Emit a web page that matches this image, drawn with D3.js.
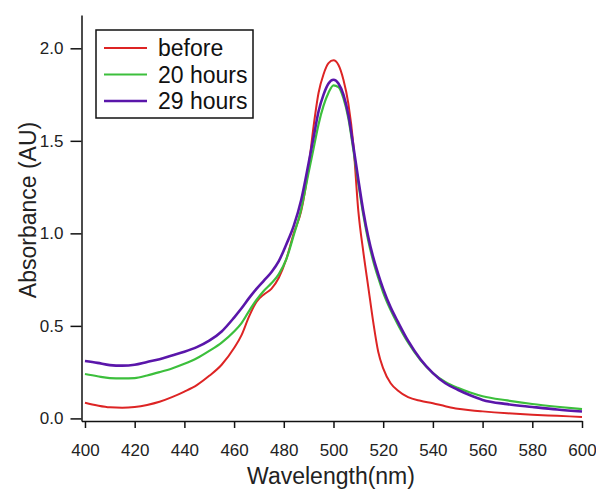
<!DOCTYPE html>
<html>
<head>
<meta charset="utf-8">
<script src="https://cdn.jsdelivr.net/npm/d3@7"></script>
<style>
  html, body { margin: 0; padding: 0; background: #fff; }
  svg { display: block; font-family: "Liberation Sans", Arial, sans-serif; }
</style>
</head>
<body>
<svg id="chart" width="596" height="489"></svg>
<script>
// ---- data ----
const wavelengths = [400,405,410,415,420,425,430,435,440,445,450,455,460,463,466,469,472,475,478,481,484,487,490,492,494,496,498,500,502,504,506,508,510,512,514,516,518,520,523,526,530,535,540,545,550,555,560,570,580,590,600];

const before = [0.085,0.07,0.06,0.058,0.062,0.073,0.09,0.115,0.145,0.18,0.23,0.29,0.38,0.45,0.55,0.63,0.67,0.70,0.76,0.86,1.00,1.12,1.36,1.58,1.76,1.86,1.92,1.935,1.91,1.83,1.70,1.48,1.12,0.90,0.71,0.52,0.36,0.27,0.19,0.15,0.115,0.095,0.082,0.066,0.052,0.044,0.038,0.028,0.02,0.014,0.008];

const hours20 = [0.24,0.228,0.218,0.216,0.218,0.232,0.25,0.27,0.295,0.325,0.365,0.41,0.47,0.515,0.58,0.64,0.69,0.73,0.78,0.86,0.99,1.13,1.33,1.46,1.59,1.69,1.76,1.80,1.79,1.73,1.62,1.45,1.27,1.10,0.96,0.85,0.76,0.68,0.585,0.505,0.41,0.315,0.245,0.197,0.165,0.14,0.12,0.097,0.078,0.063,0.05];

const hours29 = [0.31,0.30,0.288,0.285,0.29,0.305,0.32,0.34,0.36,0.385,0.42,0.47,0.545,0.595,0.65,0.70,0.745,0.79,0.85,0.94,1.04,1.18,1.38,1.52,1.66,1.75,1.81,1.83,1.81,1.75,1.64,1.47,1.29,1.12,0.98,0.87,0.78,0.70,0.60,0.52,0.42,0.32,0.245,0.19,0.155,0.125,0.10,0.077,0.062,0.048,0.037];

const seriesNames = ["before", "20 hours", "29 hours"];
const seriesColors = ["#dd2424", "#3cbf3c", "#5a16aa"];
const xTicks = [400,420,440,460,480,500,520,540,560,580,600];
const yTicks = [0, 0.5, 1.0, 1.5, 2.0];
const xTitle = "Wavelength(nm)";
const yTitle = "Absorbance (AU)";

// ---- drawing ----
const svg = d3.select("#chart");
const x = d3.scaleLinear().domain([398.6, 600]).range([81.5, 582]);
const y = d3.scaleLinear().domain([-0.014, 2.18]).range([421, 15]);

const xAxis = d3.axisBottom(x).tickValues(xTicks).tickSize(7).tickSizeOuter(0).tickPadding(16);
const yAxis = d3.axisLeft(y).tickValues(yTicks).tickSize(11).tickSizeOuter(0).tickPadding(7)
  .tickFormat(d3.format(".1f"));

const gx = svg.append("g").attr("transform", "translate(0,421)").call(xAxis);
const gy = svg.append("g").attr("transform", "translate(81.5,0)").call(yAxis);
[gx, gy].forEach(g => {
  g.selectAll("path, line").attr("stroke", "#111").attr("stroke-width", 1.5);
  g.selectAll("text").attr("font-size", 17).attr("fill", "#222")
    .attr("font-family", "Liberation Sans, Arial, sans-serif");
});

const series = [before, hours20, hours29];
const widths = [2, 2.2, 2.6];
const line = d3.line().x((d, i) => x(wavelengths[i])).y(d => y(d)).curve(d3.curveMonotoneX);
series.forEach((s, k) => {
  svg.append("path").datum(s).attr("d", line)
    .attr("fill", "none").attr("stroke", seriesColors[k]).attr("stroke-width", widths[k])
    .attr("stroke-linejoin", "round");
});

// axis titles
svg.append("text").attr("x", 331).attr("y", 484).attr("text-anchor", "middle")
  .attr("font-size", 23).attr("fill", "#222").text(xTitle);
svg.append("text").attr("transform", "translate(36,210) rotate(-90)").attr("text-anchor", "middle")
  .attr("font-size", 23).attr("fill", "#222").text(yTitle);

// legend
const lg = svg.append("g");
lg.append("rect").attr("x", 96).attr("y", 30).attr("width", 157).attr("height", 88)
  .attr("fill", "#fff").attr("stroke", "#111").attr("stroke-width", 1.5);
seriesNames.forEach((n, k) => {
  const cy = 48 + k * 26.5;
  lg.append("line").attr("x1", 104).attr("x2", 147).attr("y1", cy).attr("y2", cy)
    .attr("stroke", seriesColors[k]).attr("stroke-width", widths[k]);
  lg.append("text").attr("x", 158).attr("y", cy).attr("dy", "0.36em")
    .attr("font-size", 23).attr("fill", "#111").text(n);
});
</script>
</body>
</html>
